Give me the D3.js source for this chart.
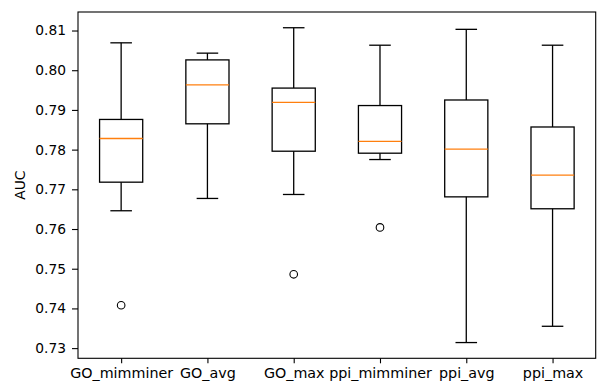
<!DOCTYPE html>
<html><head><meta charset="utf-8">
<script src="https://cdn.jsdelivr.net/npm/d3@7"></script>
<style>body{margin:0;background:#fff}svg{display:block}</style>
</head><body>
<svg id="chart" width="599" height="381"></svg>
<script>
const categories = ["GO_mimminer","GO_avg","GO_max","ppi_mimminer","ppi_avg","ppi_max"];
const whiskerLow  = [0.7646, 0.7677, 0.7687, 0.7775, 0.7314, 0.7355];
const q1          = [0.7718, 0.7865, 0.7796, 0.7791, 0.7681, 0.7651];
const median      = [0.7828, 0.7963, 0.7919, 0.7821, 0.7801, 0.7736];
const q3          = [0.7876, 0.8026, 0.7955, 0.7911, 0.7925, 0.7857];
const whiskerHigh = [0.8069, 0.8043, 0.8107, 0.8063, 0.8103, 0.8063];
const outliers    = [[0.7408], [], [0.7486], [0.7604], [], []];
const yTicks = [0.73, 0.74, 0.75, 0.76, 0.77, 0.78, 0.79, 0.80, 0.81];
const yLabel = "AUC";

const m = {left: 78, top: 12, right: 3.3, bottom: 22.7};
const W = 599, H = 381;
const svg = d3.select("#chart");
const iw = W - m.left - m.right, ih = H - m.top - m.bottom;
const g = svg.append("g").attr("transform", `translate(${m.left},${m.top})`);

const all = whiskerLow.concat(whiskerHigh, outliers.flat());
const lo = d3.min(all), hi = d3.max(all), pad = (hi - lo) * 0.05;
const y = d3.scaleLinear().domain([lo - pad, hi + pad]).range([ih, 0]);
const x = d3.scalePoint().domain(categories).range([0, iw]).padding(0.5);
const bw = x.step() * 0.5;

const font = "'DejaVu Sans', sans-serif";
const data = categories.map((c, i) => ({c, lo: whiskerLow[i], q1: q1[i], med: median[i], q3: q3[i], hi: whiskerHigh[i], out: outliers[i]}));

const sw = 1.3;
const bx = g.selectAll("g.box").data(data).join("g").attr("class", "box");
bx.append("line").attr("x1", d => x(d.c)).attr("x2", d => x(d.c)).attr("y1", d => y(d.q3)).attr("y2", d => y(d.hi)).attr("stroke", "#000").attr("stroke-width", sw);
bx.append("line").attr("x1", d => x(d.c)).attr("x2", d => x(d.c)).attr("y1", d => y(d.q1)).attr("y2", d => y(d.lo)).attr("stroke", "#000").attr("stroke-width", sw);
bx.append("line").attr("x1", d => x(d.c) - bw / 4).attr("x2", d => x(d.c) + bw / 4).attr("y1", d => y(d.hi)).attr("y2", d => y(d.hi)).attr("stroke", "#000").attr("stroke-width", sw);
bx.append("line").attr("x1", d => x(d.c) - bw / 4).attr("x2", d => x(d.c) + bw / 4).attr("y1", d => y(d.lo)).attr("y2", d => y(d.lo)).attr("stroke", "#000").attr("stroke-width", sw);
bx.append("rect").attr("x", d => x(d.c) - bw / 2).attr("width", bw).attr("y", d => y(d.q3)).attr("height", d => y(d.q1) - y(d.q3)).attr("fill", "none").attr("stroke", "#000").attr("stroke-width", sw);
bx.append("line").attr("x1", d => x(d.c) - bw / 2).attr("x2", d => x(d.c) + bw / 2).attr("y1", d => y(d.med)).attr("y2", d => y(d.med)).attr("stroke", "#ff7f0e").attr("stroke-width", sw);
bx.each(function(d) {
  d3.select(this).selectAll("circle").data(d.out).join("circle")
    .attr("cx", x(d.c)).attr("cy", v => y(v)).attr("r", 3.8)
    .attr("fill", "none").attr("stroke", "#000").attr("stroke-width", 1.1);
});

const ya = g.append("g").call(d3.axisLeft(y).tickValues(yTicks).tickFormat(d3.format(".2f")).tickSize(6).tickPadding(6));
const xa = g.append("g").attr("transform", `translate(0,${ih})`).call(d3.axisBottom(x).tickSize(5).tickPadding(5));
[ya, xa].forEach(a => {
  a.select(".domain").remove();
  a.selectAll(".tick line").attr("stroke", "#000").attr("stroke-width", 1.1);
  a.selectAll(".tick text").attr("fill", "#000").style("font-family", font).style("font-size", "13.8px");
});
xa.selectAll(".tick text").style("font-size", "14.3px");
g.append("rect").attr("width", iw).attr("height", ih).attr("fill", "none").attr("stroke", "#000").attr("stroke-width", 1.1);

svg.append("text").attr("transform", `translate(25,${m.top + ih / 2}) rotate(-90)`)
  .attr("text-anchor", "middle").style("font-family", font).style("font-size", "13.8px").text(yLabel);
</script>
</body></html>
